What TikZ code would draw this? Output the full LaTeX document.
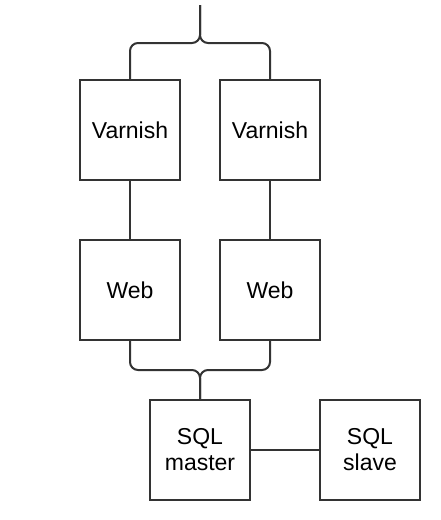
\documentclass[tikz,border=0pt]{standalone}
\usepackage{fontspec}
\setmainfont{Liberation Sans}
\begin{document}
\begin{tikzpicture}[x=1pt,y=-1pt,
  boxnode/.style={draw=black!80,line width=1.8pt,minimum width=100pt,minimum height=100pt,inner sep=0pt,align=center,font=\fontsize{23}{26}\selectfont},
  conn/.style={draw=black!80,line width=2pt,rounded corners=8pt}]
\useasboundingbox (0,0) rectangle (440,520);
\node[boxnode] (v1) at (130,130) {Varnish};
\node[boxnode] (v2) at (270,130) {Varnish};
\node[boxnode] (w1) at (130,290) {Web};
\node[boxnode] (w2) at (270,290) {Web};
\node[boxnode] (sm) at (200,450) {SQL\\master};
\node[boxnode] (ss) at (370,450) {SQL\\slave};
\coordinate (top) at (200,5);
\coordinate (j1) at (200,43);
\coordinate (j2) at (200,370);
\draw[conn] (v1.north) |- (j1) -- (top);
\draw[conn] (v2.north) |- (j1) -- (top);
\draw[conn] (v1) -- (w1);
\draw[conn] (v2) -- (w2);
\draw[conn] (w1.south) |- (j2) -- (sm.north);
\draw[conn] (w2.south) |- (j2) -- (sm.north);
\draw[conn] (sm) -- (ss);
\end{tikzpicture}
\end{document}
